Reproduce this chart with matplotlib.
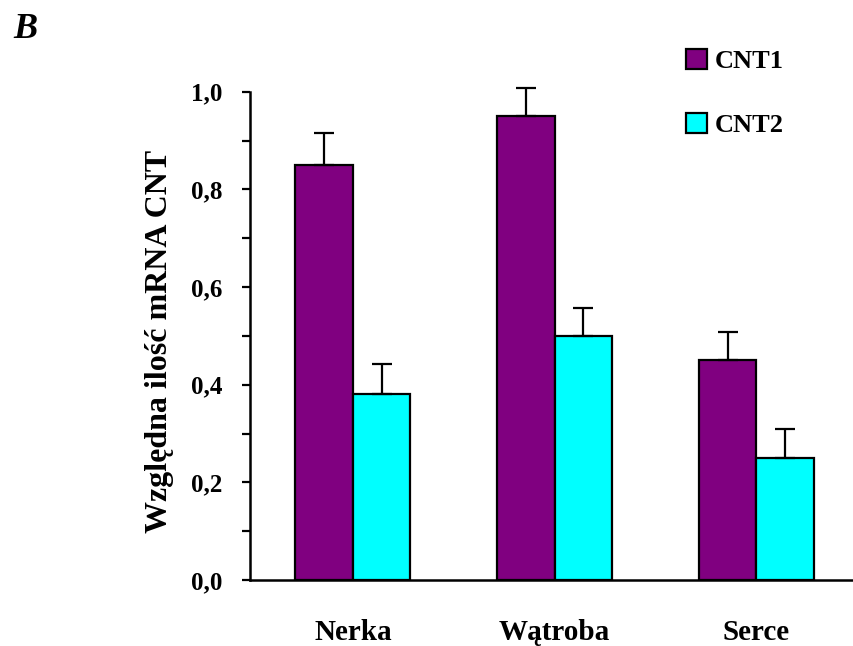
import numpy as np
import matplotlib.pyplot as plt

plt.rcParams['font.family'] = ['Liberation Serif', 'DejaVu Serif']
plt.rcParams['font.weight'] = 'bold'

categories = ['Nerka', 'Wątroba', 'Serce']
series_names = ['CNT1', 'CNT2']
cnt1 = [0.85, 0.95, 0.45]
cnt2 = [0.38, 0.50, 0.25]
cnt1_err = [0.065, 0.057, 0.057]
cnt2_err = [0.062, 0.058, 0.060]
yticks = [0.0, 0.2, 0.4, 0.6, 0.8, 1.0]
ytick_labels = ['0,0', '0,2', '0,4', '0,6', '0,8', '1,0']

fig = plt.figure(figsize=(8.54, 6.46), dpi=100)
ax = fig.add_axes([0.2927, 0.1022, 0.7053, 0.7558])

x = np.arange(len(categories))
w = 0.285
err_kw = dict(ecolor='black', elinewidth=1.6, capsize=7.5, capthick=1.6)
b1 = ax.bar(x - w / 2, cnt1, w, color='#800080', edgecolor='black', linewidth=1.6,
            yerr=[np.zeros(3), cnt1_err], error_kw=err_kw, label=series_names[0])
b2 = ax.bar(x + w / 2, cnt2, w, color='#00FFFF', edgecolor='black', linewidth=1.6,
            yerr=[np.zeros(3), cnt2_err], error_kw=err_kw, label=series_names[1])

# error bars above 1.0 must not be cut off
for b in (b1, b2):
    for art in list(b.errorbar.lines[1]) + list(b.errorbar.lines[2]):
        art.set_clip_on(False)

ax.set_xlim(-0.51, 2.475)
ax.set_ylim(0, 1.0)
ax.set_yticks(yticks)
ax.set_yticklabels(ytick_labels, fontsize=18, fontweight='bold')
ax.set_yticks(np.arange(0.1, 1.0, 0.2), minor=True)
ax.tick_params(axis='y', which='both', direction='out', length=6, width=1.6, pad=14)
ax.set_xticks(x)
ax.set_xticklabels(categories, fontsize=21, fontweight='bold')
ax.tick_params(axis='x', length=0, pad=28)

for s in ['top', 'right']:
    ax.spines[s].set_visible(False)
for s in ['left', 'bottom']:
    ax.spines[s].set_linewidth(1.8)

fig.text(160 / 854, 0.472, 'Względna ilość mRNA CNT', rotation=90, ha='center', va='center',
         fontsize=23, fontweight='bold')
fig.text(13 / 854, 1 - 30 / 646, 'B', fontsize=26, fontweight='bold', style='italic',
         ha='left', va='center')

ax.legend(handles=[b1, b2], loc='upper left', bbox_to_anchor=(686 / 854, 1 - 49 / 646),
          bbox_transform=fig.transFigure, frameon=False, fontsize=19,
          handlelength=0.8, handleheight=0.8, handletextpad=0.3, labelspacing=1.5,
          borderpad=0, borderaxespad=0)

fig.savefig('out.png', dpi=100)
